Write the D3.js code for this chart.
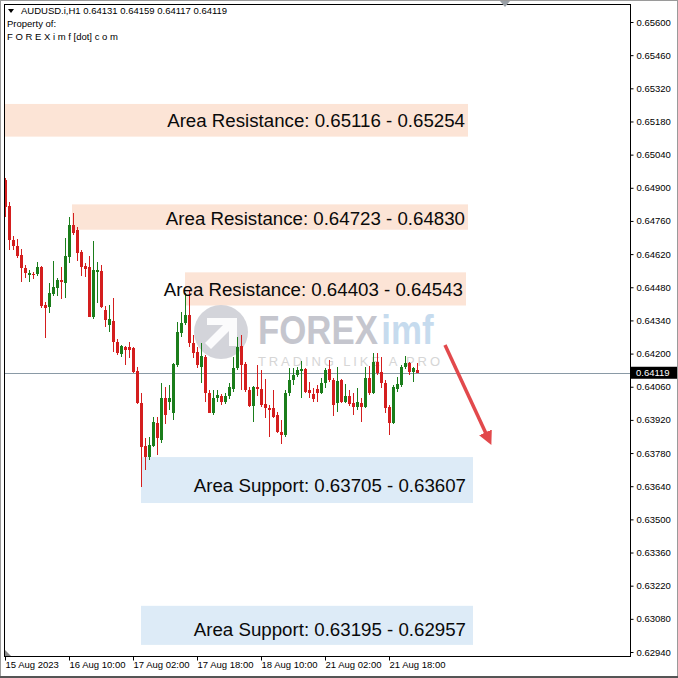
<!DOCTYPE html>
<html><head><meta charset="utf-8">
<script src="https://cdn.jsdelivr.net/npm/d3@7"></script>
<style>html,body{margin:0;padding:0;background:#fff;}svg{display:block;font-family:"Liberation Sans",Arial,sans-serif;}</style>
</head><body>
<script>
// ---- data (AUDUSD H1) ----
const openP = [0.64933,0.64824,0.64680,0.64655,0.64616,0.64561,0.64531,0.64536,0.64536,0.64565,
0.64405,0.64396,0.64451,0.64477,0.64510,0.64498,0.64607,0.64743,0.64722,0.64629,
0.64570,0.64565,0.64354,0.64544,0.64548,0.64384,0.64320,0.64337,0.64249,0.64198,
0.64228,0.64228,0.64224,0.64126,0.63991,0.63810,0.63763,0.63810,0.63907,0.63835,
0.64012,0.63996,0.63949,0.64152,0.64287,0.64329,0.64363,0.64245,0.64207,0.64143,
0.64185,0.64033,0.63951,0.64012,0.64020,0.63996,0.64020,0.64050,0.64139,0.64232,
0.64156,0.64046,0.63977,0.64059,0.64050,0.63987,0.63970,0.63970,0.63941,0.63869,
0.63857,0.64033,0.64088,0.64109,0.64126,0.64135,0.64046,0.64029,0.64050,0.64033,
0.64076,0.64135,0.64088,0.63991,0.64088,0.63996,0.64021,0.63991,0.63975,0.63991,
0.63975,0.64097,0.64033,0.64164,0.64122,0.64076,0.63975,0.63907,0.64050,0.64067,
0.64143,0.64160,0.64122,0.64131];
const highP = [0.64942,0.64841,0.64697,0.64684,0.64642,0.64574,0.64553,0.64544,0.64586,0.64570,
0.64418,0.64498,0.64591,0.64519,0.64565,0.64689,0.64777,0.64794,0.64735,0.64637,
0.64582,0.64612,0.64676,0.64586,0.64574,0.64401,0.64405,0.64434,0.64262,0.64236,
0.64232,0.64249,0.64228,0.64143,0.64033,0.63844,0.63848,0.63932,0.63932,0.64076,
0.64059,0.64067,0.64160,0.64333,0.64375,0.64455,0.64468,0.64278,0.64228,0.64245,
0.64194,0.64046,0.64046,0.64046,0.64030,0.64033,0.64076,0.64185,0.64270,0.64278,
0.64164,0.64059,0.64063,0.64152,0.64130,0.64093,0.63983,0.64046,0.63953,0.63920,
0.64046,0.64139,0.64139,0.64143,0.64169,0.64139,0.64080,0.64054,0.64067,0.64097,
0.64139,0.64173,0.64097,0.64143,0.64093,0.64071,0.64046,0.64033,0.64054,0.64012,
0.64143,0.64148,0.64202,0.64202,0.64185,0.64088,0.63983,0.64067,0.64101,0.64152,
0.64190,0.64164,0.64143,0.64159];
const lowP = [0.64777,0.64637,0.64637,0.64603,0.64502,0.64519,0.64502,0.64514,0.64527,0.64392,
0.64266,0.64371,0.64443,0.64443,0.64430,0.64434,0.64582,0.64701,0.64591,0.64527,
0.64523,0.64354,0.64346,0.64413,0.64392,0.64312,0.64291,0.64207,0.64194,0.64185,
0.64152,0.64181,0.64118,0.63987,0.63637,0.63709,0.63751,0.63806,0.63772,0.63823,
0.63903,0.63962,0.63920,0.64143,0.64270,0.64320,0.64228,0.64181,0.64139,0.64076,
0.63996,0.63949,0.63941,0.63996,0.63983,0.63987,0.64008,0.64037,0.64130,0.64046,
0.64037,0.63975,0.63911,0.64020,0.63975,0.63928,0.63848,0.63928,0.63865,0.63819,
0.63848,0.64021,0.64067,0.64101,0.64012,0.64033,0.64012,0.63996,0.63996,0.64029,
0.64054,0.64080,0.63937,0.63953,0.63991,0.63991,0.63979,0.63941,0.63962,0.63911,
0.63970,0.64025,0.64029,0.64109,0.64054,0.63949,0.63857,0.63903,0.64037,0.64059,
0.64135,0.64109,0.64080,0.64117];
const closeP = [0.64819,0.64680,0.64655,0.64612,0.64561,0.64540,0.64540,0.64531,0.64565,0.64401,
0.64392,0.64455,0.64481,0.64510,0.64502,0.64612,0.64743,0.64709,0.64624,0.64565,
0.64557,0.64356,0.64553,0.64553,0.64396,0.64342,0.64346,0.64249,0.64202,0.64232,
0.64215,0.64215,0.64122,0.63991,0.63806,0.63763,0.63814,0.63911,0.63844,0.64012,
0.63941,0.64012,0.64156,0.64291,0.64329,0.64363,0.64245,0.64202,0.64152,0.64190,
0.64033,0.63951,0.64012,0.64025,0.63996,0.64020,0.64059,0.64139,0.64228,0.64152,
0.64046,0.63977,0.64059,0.64050,0.63983,0.63970,0.63962,0.63932,0.63869,0.63857,
0.64033,0.64088,0.64109,0.64130,0.64135,0.64037,0.64033,0.64008,0.64033,0.64076,
0.64130,0.64088,0.63983,0.64084,0.63996,0.64021,0.63987,0.63975,0.63996,0.63975,
0.64097,0.64033,0.64164,0.64118,0.64076,0.63970,0.63907,0.64059,0.64071,0.64143,
0.64160,0.64122,0.64139,0.64119];

const priceTicks = [0.65600,0.65460,0.65320,0.65180,0.65040,0.64900,0.64760,0.64620,0.64480,0.64340,
0.64200,0.64060,0.63920,0.63780,0.63640,0.63500,0.63360,0.63220,0.63080,0.62940];
const timeTickIdx = [0,16,32,48,64,80,96];
const timeTickLabels = ["15 Aug 2023","16 Aug 10:00","17 Aug 02:00","17 Aug 18:00","18 Aug 10:00","21 Aug 02:00","21 Aug 18:00"];

const zoneLabels = ["Area Resistance: 0.65116 - 0.65254","Area Resistance: 0.64723 - 0.64830","Area Resistance: 0.64403 - 0.64543","Area Support: 0.63705 - 0.63607","Area Support: 0.63195 - 0.62957"];
const zoneTop = [0.65254,0.64830,0.64543,0.63763,0.63135];
const zoneBottom = [0.65116,0.64723,0.64403,0.63569,0.62970];
const zoneStartIdx = [0,16.75,45,34,34];
const zoneEndIdx = [115.75,115.75,115.25,117,117];
const zoneType = ["res","res","res","sup","sup"];
const zoneLabelShift = [0,1,1,5,4];

const currentPrice = 0.64119;
const headerText = "AUDUSD.i,H1  0.64131 0.64159 0.64117 0.64119";
const arrowFrom = [110, 0.64236];
const arrowTo = [121, 0.63835];

// ---- drawing ----
const W = 678, H = 678;
const pLeft = 4, pRight = 630, pTop = 4, pBottom = 656;
const FS = 9.5;
const svg = d3.select("body").append("svg").attr("width", W).attr("height", H);

const x = d3.scaleLinear().domain([0, 16]).range([5, 69]);
const y = d3.scaleLinear().domain([0.62940, 0.65600]).range([652, 22]);

svg.append("rect").attr("x",0).attr("y",0).attr("width",W).attr("height",H).attr("fill","#fff");

// zones
const zc = {res:"#fce4d6", sup:"#ddebf7"};
const zg = svg.append("g");
zoneLabels.forEach((t,i)=>{
  zg.append("rect")
    .attr("x", x(zoneStartIdx[i])).attr("y", y(zoneTop[i]))
    .attr("width", x(zoneEndIdx[i]) - x(zoneStartIdx[i]))
    .attr("height", y(zoneBottom[i]) - y(zoneTop[i]))
    .attr("fill", zc[zoneType[i]]);
});

// watermark
const wm = svg.append("g");
wm.append("circle").attr("cx",221).attr("cy",332).attr("r",27).attr("fill","#cbccd3").attr("opacity",0.85);
wm.append("path").attr("d","M207,318 L237,318 L237,346 L229,346 L229,331 L211,349 L205,343 L223,325 L207,325 Z").attr("fill","#fff").attr("opacity",0.9);
const logo = wm.append("text").attr("transform","translate(258,344) scale(0.87,1)")
  .attr("font-size",40).attr("font-weight","bold");
logo.append("tspan").attr("fill","#c5c6ce").text("FOREX");
logo.append("tspan").attr("dx",4).attr("fill","#c6dbee").text("imf");
wm.append("text").attr("x",258).attr("y",366).attr("font-size",13)
  .attr("textLength",182).attr("lengthAdjust","spacing")
  .attr("fill","#d6d6d6").text("TRADING LIKE A PRO");

// current price line
svg.append("line").attr("x1",pLeft).attr("x2",pRight).attr("y1",Math.round(y(currentPrice))+0.5).attr("y2",Math.round(y(currentPrice))+0.5)
  .attr("stroke","#8a9aa6").attr("stroke-width",1);

// candles
const idx = d3.range(openP.length);
const cg = svg.append("g").attr("shape-rendering","crispEdges");
const red = "#d41e1e", green = "#1b7d1b";
idx.forEach(i=>{
  const up = closeP[i] >= openP[i];
  const col = up ? green : red;
  const cx = Math.round(x(i));
  cg.append("line").attr("x1",cx+0.5).attr("x2",cx+0.5)
    .attr("y1",y(highP[i])).attr("y2",y(lowP[i])).attr("stroke",col).attr("stroke-width",1);
  const yt = y(Math.max(openP[i],closeP[i])), yb = y(Math.min(openP[i],closeP[i]));
  cg.append("rect").attr("x",cx-1).attr("y",yt).attr("width",3).attr("height",Math.max(1,yb-yt)).attr("fill",col);
});

// zone labels
zoneLabels.forEach((t,i)=>{
  const cy = (y(zoneTop[i]) + y(zoneBottom[i]))/2 + zoneLabelShift[i];
  const rx = zoneType[i]==="res" ? x(zoneEndIdx[i]) - 3 : x(zoneEndIdx[i]) - 7;
  svg.append("text").attr("x", rx).attr("y", cy).attr("dy","0.35em")
    .attr("text-anchor","end").attr("font-size",18.7).attr("fill","#0a0a0a").text(t);
});

// arrow
const defs = svg.append("defs");
defs.append("marker").attr("id","ah").attr("viewBox","0 0 10 10").attr("refX",6).attr("refY",5)
  .attr("markerWidth",4).attr("markerHeight",4).attr("orient","auto")
  .append("path").attr("d","M0,0 L10,5 L0,10 Z").attr("fill","#e2494c");
svg.append("line").attr("x1",x(arrowFrom[0])).attr("y1",y(arrowFrom[1]))
  .attr("x2",x(arrowTo[0])).attr("y2",y(arrowTo[1]))
  .attr("stroke","#e2494c").attr("stroke-width",3.5).attr("marker-end","url(#ah)");

// frame
svg.append("rect").attr("x",pLeft+0.5).attr("y",pTop+0.5).attr("width",pRight-pLeft).attr("height",pBottom-pTop)
  .attr("fill","none").attr("stroke","#000").attr("stroke-width",1).attr("shape-rendering","crispEdges");

// price axis
const ya = svg.append("g").attr("transform",`translate(${pRight+0.5},0)`)
  .call(d3.axisRight(y).tickValues(priceTicks).tickSize(3).tickPadding(3).tickFormat(d3.format(".5f")));
ya.select(".domain").remove();
ya.selectAll("line").attr("stroke","#000");
ya.selectAll("text").attr("font-size",FS).attr("fill","#000").attr("font-family","Liberation Sans, Arial, sans-serif");

// current price tag
const cpY = y(currentPrice);
svg.append("rect").attr("x",pRight+1).attr("y",cpY-6).attr("width",46).attr("height",12).attr("fill","#000");
svg.append("text").attr("x",pRight+6).attr("y",cpY).attr("dy","0.35em").attr("font-size",FS).attr("fill","#fff").text(d3.format(".5f")(currentPrice));

// time axis
const xa = svg.append("g").attr("transform",`translate(0,${pBottom+0.5})`)
  .call(d3.axisBottom(x).tickValues(timeTickIdx).tickSize(4).tickFormat((d,i)=>timeTickLabels[i]));
xa.select(".domain").remove();
xa.selectAll("line").attr("stroke","#000");
xa.selectAll("text").attr("text-anchor","start").attr("dx",0).attr("dy","0.35em").attr("y",8)
  .attr("font-size",FS).attr("fill","#000").attr("font-family","Liberation Sans, Arial, sans-serif");

// header
svg.append("path").attr("d","M8,9 L14,9 L11,13 Z").attr("fill","#000");
svg.append("text").attr("x",21).attr("y",14).attr("font-size",FS).attr("fill","#000").text(headerText);
svg.append("text").attr("x",7).attr("y",27).attr("font-size",FS).attr("fill","#000").text("Property of:");
svg.append("text").attr("x",7).attr("y",40).attr("font-size",FS).attr("fill","#000").text("F O R E X i m f [dot] c o m");

// small markers
svg.append("path").attr("d","M500,1 L510,1 L505,7 Z").attr("fill","#9aa0a6");
svg.append("path").attr("d","M5,650 L5,656 L11,656 Z").attr("fill","#888");

// outer border
svg.append("rect").attr("x",0.5).attr("y",0.5).attr("width",W-1).attr("height",H-1).attr("fill","none")
  .attr("stroke","#9a9a9a").attr("stroke-width",1);
svg.append("line").attr("x1",0).attr("x2",W).attr("y1",H-1).attr("y2",H-1).attr("stroke","#555").attr("stroke-width",2);
</script>
</body></html>
